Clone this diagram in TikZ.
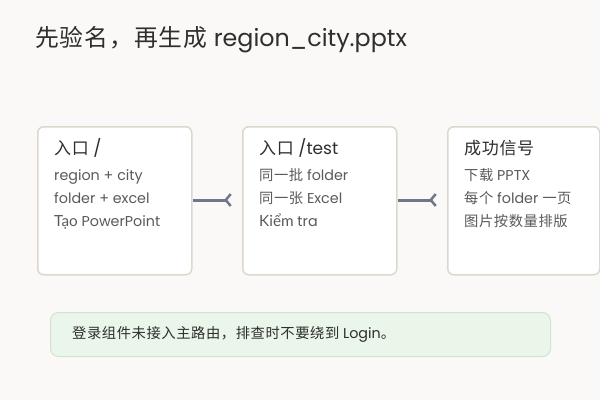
\documentclass[tikz,border=0pt]{standalone}
\usepackage{fontspec}
\setmainfont{Poppins}
\newfontfamily\cjk[LetterSpace=4]{Noto Sans CJK SC}
\newfontfamily\vi{Lato}
\usetikzlibrary{arrows.meta}
\definecolor{bg}{HTML}{FAF9F7}
\definecolor{boxline}{HTML}{DCD8CC}
\definecolor{conn}{HTML}{6E7888}
\definecolor{headc}{HTML}{2E2E2E}
\definecolor{bodyc}{HTML}{5A5A5A}
\definecolor{notefill}{HTML}{EAF6EA}
\definecolor{noteline}{HTML}{CFE3CF}
\tikzset{
  card/.style={draw=boxline, line width=1.5pt, fill=white, rounded corners=6pt, minimum width=154pt, minimum height=148pt, anchor=north west},
  head/.style={anchor=base west, text=headc, font=\fontsize{17pt}{19pt}\selectfont, inner sep=0},
  body/.style={anchor=base west, text=bodyc, font=\fontsize{14.3pt}{16pt}\selectfont, inner sep=0},
  link/.style={draw=conn, line width=3pt, -{Straight Barb[reversed,length=5pt,width=12pt,line width=2.5pt]}},
}
\begin{document}
\begin{tikzpicture}[x=1pt,y=-1pt]
\fill[bg] (0,0) rectangle (600,400);
\useasboundingbox (0,0) rectangle (600,400);
\node[anchor=base west, text=headc, font=\fontsize{23.8pt}{26pt}\selectfont, inner sep=0] (title) at (35,46) {{\cjk 先验名，再生成} region\_city.pptx};

\node[card] (b1) at (37,126) {};
\node[card] (b2) at (242,126) {};
\node[card, minimum width=152pt] (b3) at (447,126) {};

\node[head] (h1) at (54,154) {{\cjk 入口} /};
\node[body] (l11) at (54,180) {region + city};
\node[body] (l12) at (54,203) {folder + excel};
\node[body] (l13) at (54,226) {{\vi\fontsize{15.3pt}{16pt}\selectfont Tạo} PowerPoint};

\node[head] (h2) at (259,154) {{\cjk 入口} /test};
\node[body] (l21) at (259,180) {{\cjk 同一批} folder};
\node[body] (l22) at (259,203) {{\cjk 同一张} Excel};
\node[body] (l23) at (259,226) {{\vi\fontsize{15.3pt}{16pt}\selectfont Kiểm} tra};

\node[head] (h3) at (464,154) {{\cjk 成功信号}};
\node[body] (l31) at (464,180) {{\cjk 下载} PPTX};
\node[body] (l32) at (464,203) {{\cjk 每个} folder {\cjk 一页}};
\node[body] (l33) at (464,226) {{\cjk 图片按数量排版}};

\coordinate (e1) at (232,200);
\coordinate (e2) at (437,200);
\draw[link] (b1.east |- e1) -- (e1);
\draw[link] (b2.east |- e2) -- (e2);

\node[draw=noteline, line width=1pt, fill=notefill, rounded corners=8pt, minimum width=500pt, minimum height=44pt, anchor=north west] (note) at (50,312) {};
\node[body, text=headc] (notetext) at (72,338) {{\cjk 登录组件未接入主路由，排查时不要绕到} Login{\cjk 。}};
\end{tikzpicture}
\end{document}
